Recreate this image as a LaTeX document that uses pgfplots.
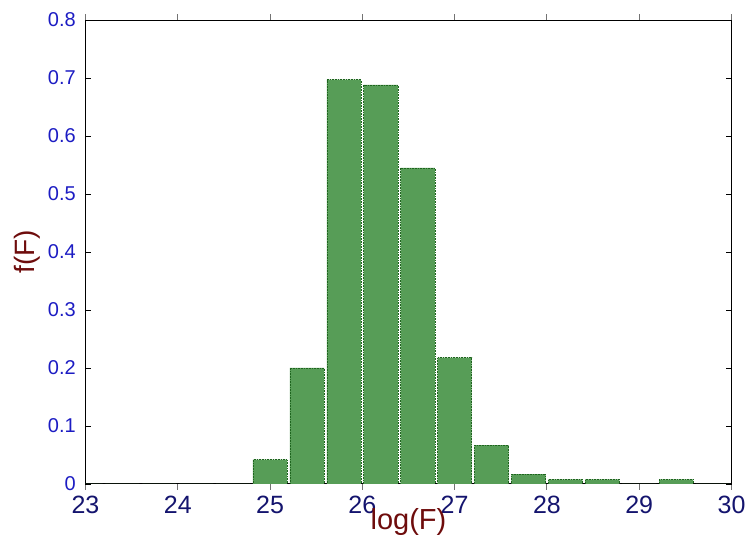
\documentclass[border=0pt]{standalone}
\usepackage{pgfplots}
\pgfplotsset{compat=1.18}
\usepackage{fontspec}
\setmainfont{Liberation Sans}

\definecolor{barfill}{RGB}{87,157,87}
\definecolor{baredge}{RGB}{30,100,30}
\definecolor{ytickcol}{RGB}{28,28,195}
\definecolor{xtickcol}{RGB}{20,20,110}
\definecolor{labelcol}{RGB}{110,12,12}

\begin{document}
\begin{tikzpicture}
\begin{axis}[
    at={(0,0)}, anchor=south west,
    scale only axis,
    width=646pt, height=464pt,
    xmin=23, xmax=30,
    ymin=0, ymax=0.8,
    xtick={23,...,30},
    ytick={0,0.1,...,0.8},
    /pgf/number format/assume math mode=true,
    yticklabel style={/pgf/number format/fixed, /pgf/number format/precision=1},
    axis line style={black, line width=1pt},
    tick align=inside,
    major tick length=6pt,
    ytick style={black, line width=0.6pt},
    xtick style={black!55, line width=1pt},
    xticklabel style={font=\fontsize{25}{25}\selectfont, text=xtickcol,
        inner sep=0pt, anchor=north, yshift=-6pt},
    yticklabel style={font=\fontsize{20}{20}\selectfont, text=ytickcol,
        inner sep=0pt, anchor=east, xshift=-9.5pt},
    every axis x label/.style={at={(axis description cs:0.5,-0.098)},
        anchor=base, font=\fontsize{29}{29}\selectfont, text=labelcol},
    every axis y label/.style={at={(axis description cs:-0.0898,0.5)},
        anchor=center, rotate=90, font=\fontsize{28}{28}\selectfont, text=labelcol},
    xlabel={log(F)},
    ylabel={f(F)},
    ybar,
    bar width=0.37,
]
\addplot[fill=barfill, draw=baredge, densely dotted, line width=0.6pt]
table {
x     y
23.0  0
23.4  0
23.8  0
24.2  0
24.6  0
25.0  0.042
25.4  0.200
25.8  0.697
26.2  0.688
26.6  0.545
27.0  0.218
27.4  0.067
27.8  0.017
28.2  0.008
28.6  0.008
29.0  0
29.4  0.008
29.8  0
};
\end{axis}
\pgfresetboundingbox
\useasboundingbox (-85.5pt,-56pt) rectangle (663.5pt,484pt);
\end{tikzpicture}
\end{document}
